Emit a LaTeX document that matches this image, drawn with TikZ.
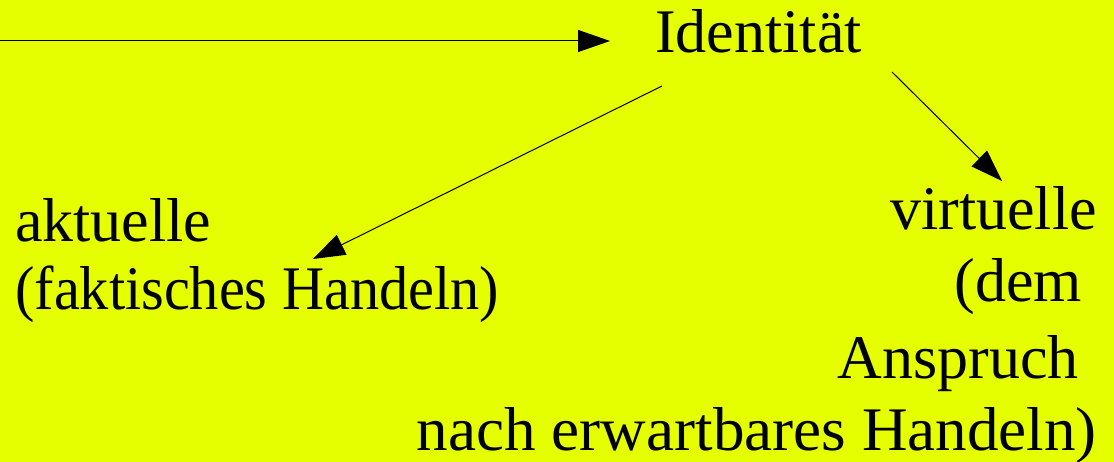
\documentclass[tikz,border=0pt]{standalone}
\usepackage{fontspec}
\setmainfont{Liberation Serif}
\usetikzlibrary{arrows.meta}
\definecolor{bg}{HTML}{E5FF00}
\tikzset{
  lbl/.style={inner sep=0pt, font=\fontsize{62}{74}\selectfont},
  conn/.style={line width=1pt, -{Triangle[length=32pt,width=22pt]}}
}
\begin{document}
\begin{tikzpicture}[x=1pt,y=-1pt]
\fill[bg] (0,0) rectangle (1114,462);
\useasboundingbox (0,0) rectangle (1114,462);
\node[lbl, anchor=base west] (id) at (655,53) {Identität};
\node[lbl, anchor=base west] (akt1) at (15,242) {aktuelle};
\node[lbl, anchor=base west] (akt2) at (15,310) {\scalebox{0.94}[1]{(faktisches Handeln)}};
\node[lbl, anchor=base east] (v1) at (1097,230) {virtuelle};
\node[lbl, anchor=base east] (v2) at (1082,302) {(dem};
\node[lbl, anchor=base east] (v3) at (1079,378) {Anspruch};
\node[lbl, anchor=base east] (v4) at (1097,450) {\scalebox{1.018}[1]{nach erwartbares Handeln)}};
\coordinate (src) at (0,41);
\coordinate (idin) at (610,41);
\coordinate (ida) at (662,86);
\coordinate (akttip) at (313,259);
\coordinate (idv) at (892,72);
\coordinate (vtip) at (1002,181);
\draw[conn] (src) -- (idin);
\draw[conn] (ida) -- (akttip);
\draw[conn] (idv) -- (vtip);
\end{tikzpicture}
\end{document}
